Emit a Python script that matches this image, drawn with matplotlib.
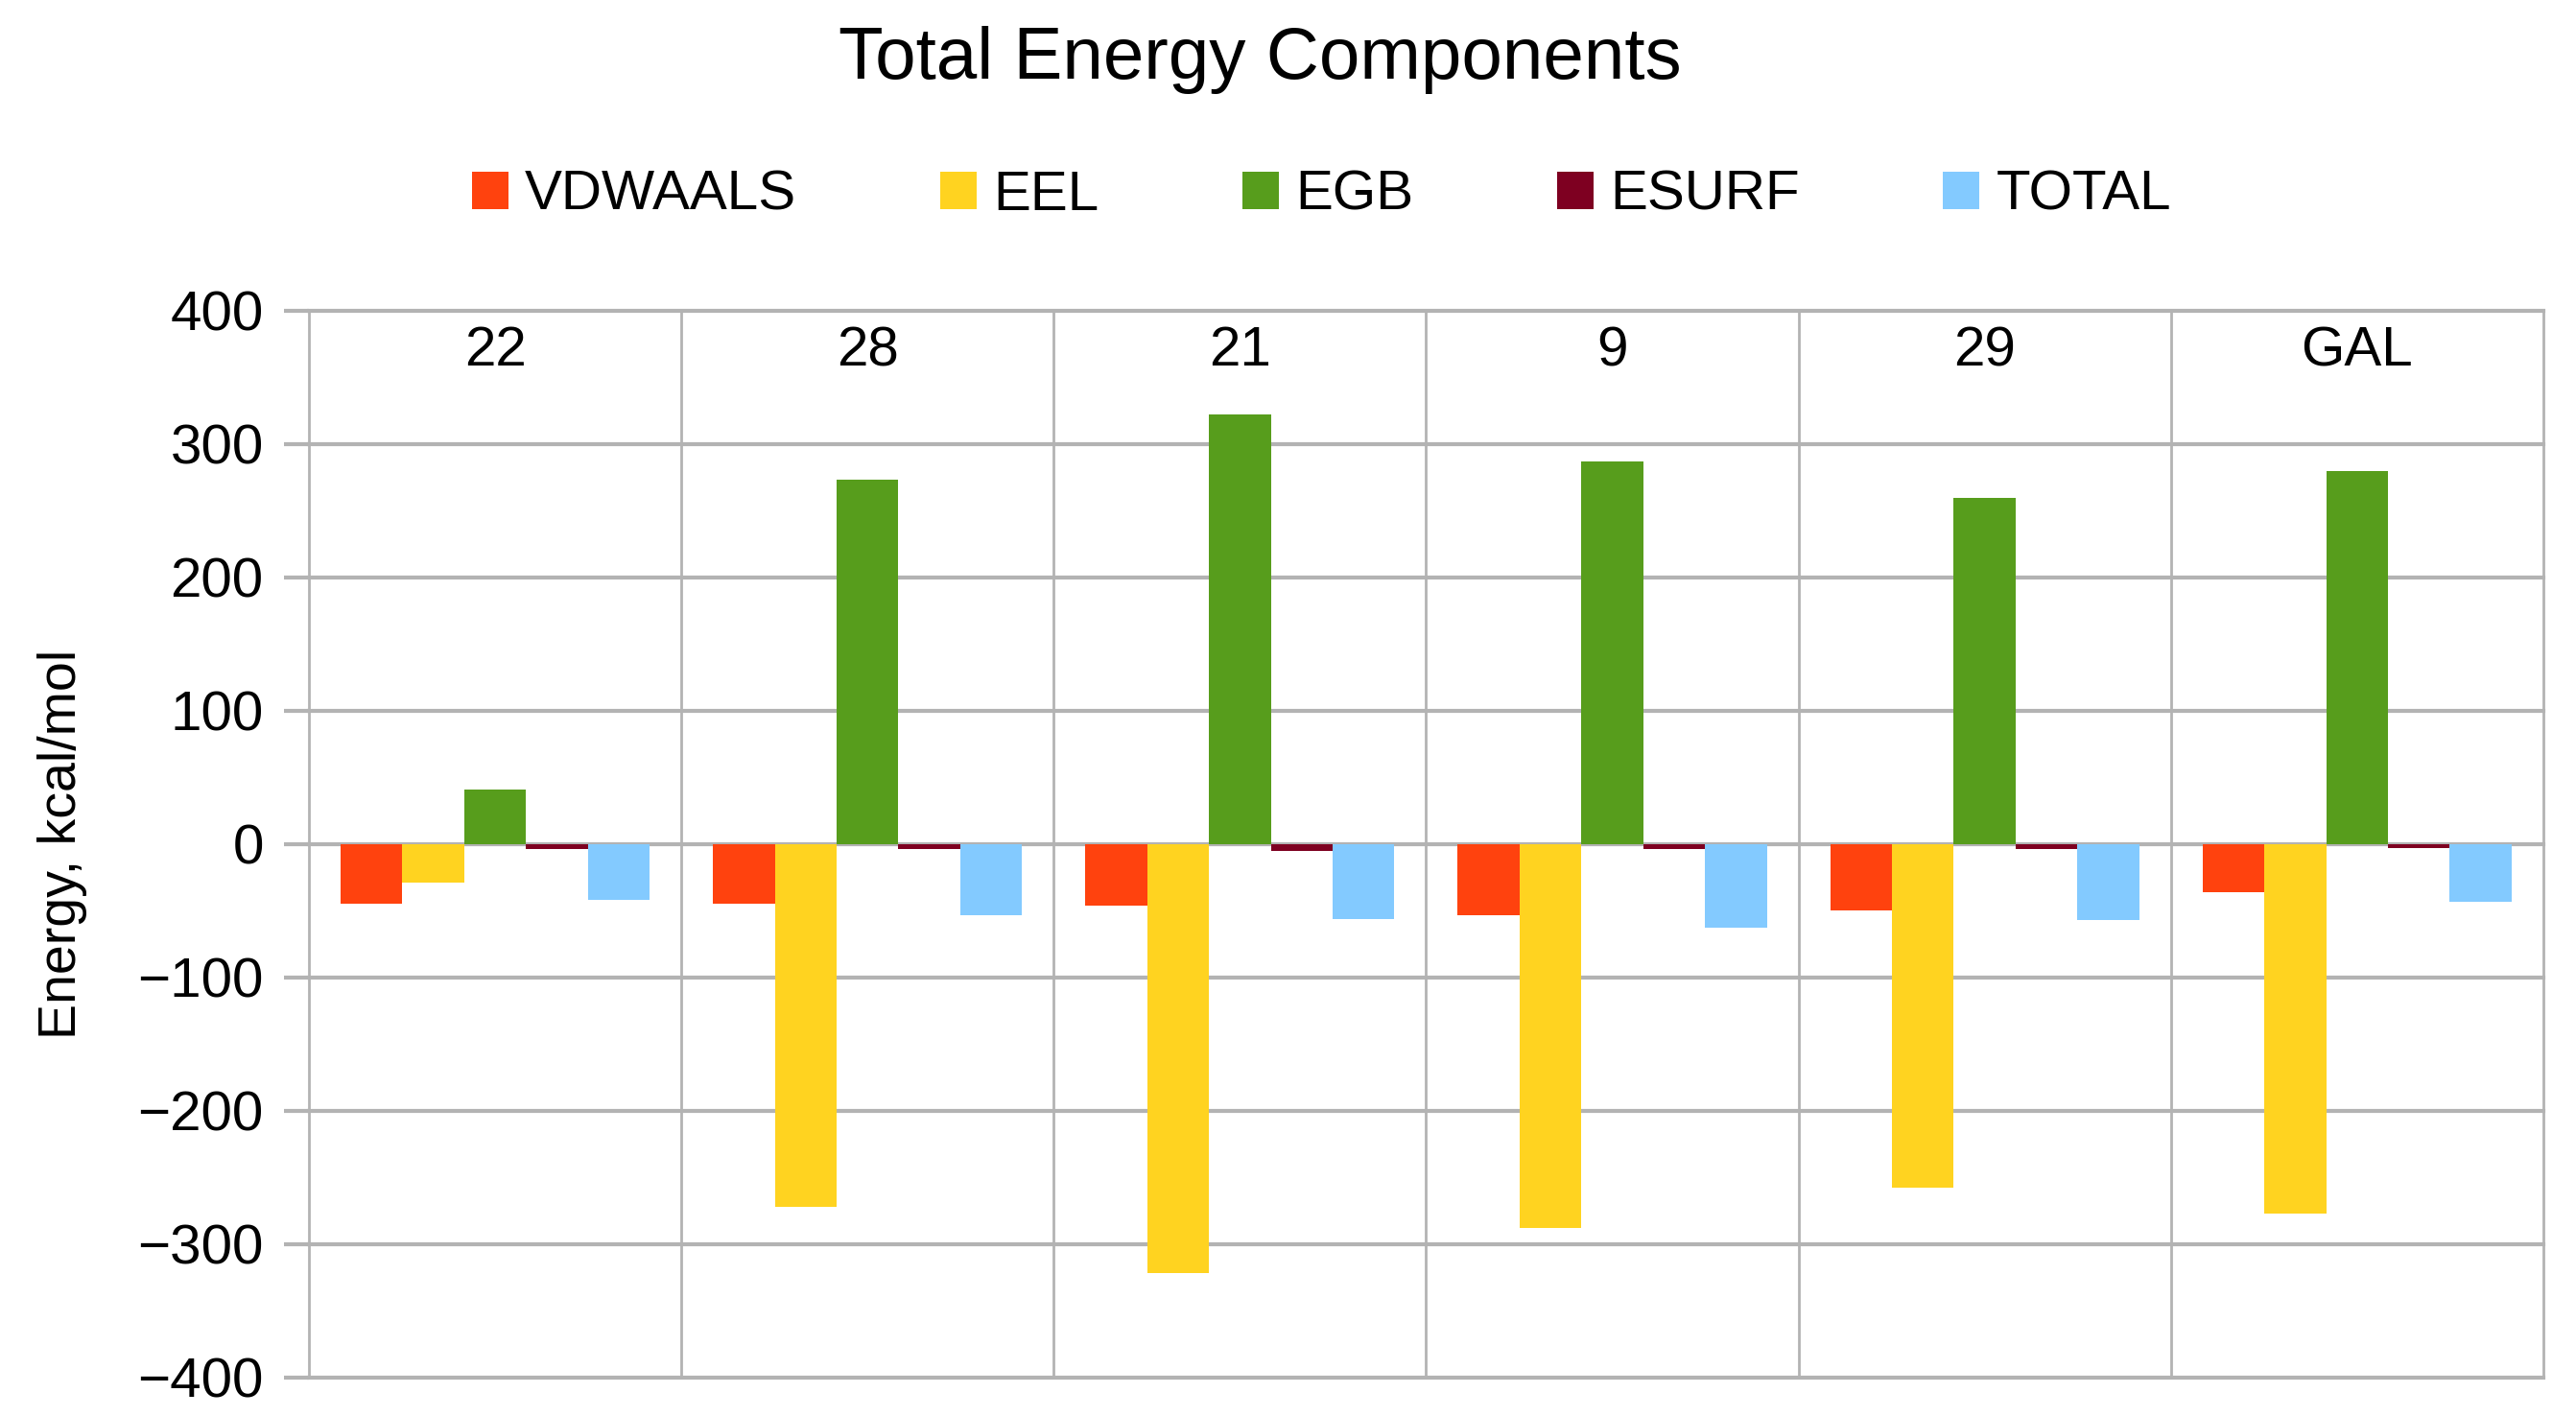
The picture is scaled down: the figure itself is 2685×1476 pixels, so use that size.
import numpy as np
import matplotlib
matplotlib.use("Agg")
import matplotlib.pyplot as plt

plt.rcParams['font.family'] = ['Liberation Sans', 'DejaVu Sans']

categories = ['22', '28', '21', '9', '29', 'GAL']
series = ['VDWAALS', 'EEL', 'EGB', 'ESURF', 'TOTAL']
vdwaals = [-45, -45, -46, -53, -50, -36]
eel = [-29, -272, -322, -288, -258, -277]
egb = [41, 273, 322, 287, 260, 280]
esurf = [-4, -4, -5, -4, -4, -3]
total = [-42, -53, -56, -63, -57, -43]
colors = ['#ff420e', '#ffd320', '#579d1c', '#7e0021', '#83caff']
yticks = [-400, -300, -200, -100, 0, 100, 200, 300, 400]

values = [vdwaals, eel, egb, esurf, total]
grid_col = '#b3b3b3'

fig = plt.figure(figsize=(26.85, 14.76), dpi=100)
ax = fig.add_axes([0.1199, 0.0272, 0.8674, 0.7533])

x = np.arange(len(categories))
w = 0.166
for i, (name, vals) in enumerate(zip(series, values)):
    ax.bar(x + (i - 2) * w, vals, width=w, color=colors[i], label=name,
           linewidth=0, zorder=3)

ax.set_xlim(-0.5, len(categories) - 0.5)
ax.set_ylim(-400, 400)

# grid lines
for yv in yticks:
    ax.axhline(yv, color=grid_col, lw=3.0, zorder=1, clip_on=False)
for xv in np.arange(-0.5, len(categories), 1):
    ax.axvline(xv, color=grid_col, lw=2.0, zorder=1, clip_on=False)

for s in ax.spines.values():
    s.set_visible(False)

ax.set_yticks(yticks)
ax.tick_params(axis='y', length=19, width=3.0, color=grid_col, pad=15,
               labelsize=42, labelcolor='#000000')
ax.set_xticks([])

# category labels inside the top of the plot
for xi, c in zip(x, categories):
    ax.text(xi, 0.962, c, transform=ax.get_xaxis_transform(),
            ha='center', va='center', fontsize=42, color='#000000')

ax.set_ylabel('Energy, kcal/mol', fontsize=40, labelpad=38)

fig.text(0.489, 0.9575, 'Total Energy Components', ha='center', va='center',
         fontsize=55, color='#000000')

fig.legend(loc='center', bbox_to_anchor=(0.513, 0.862), ncol=5,
           frameon=False, fontsize=42, handlelength=0.65, handleheight=0.65,
           handletextpad=0.3, columnspacing=2.56)

fig.savefig('out.png', dpi=100)
